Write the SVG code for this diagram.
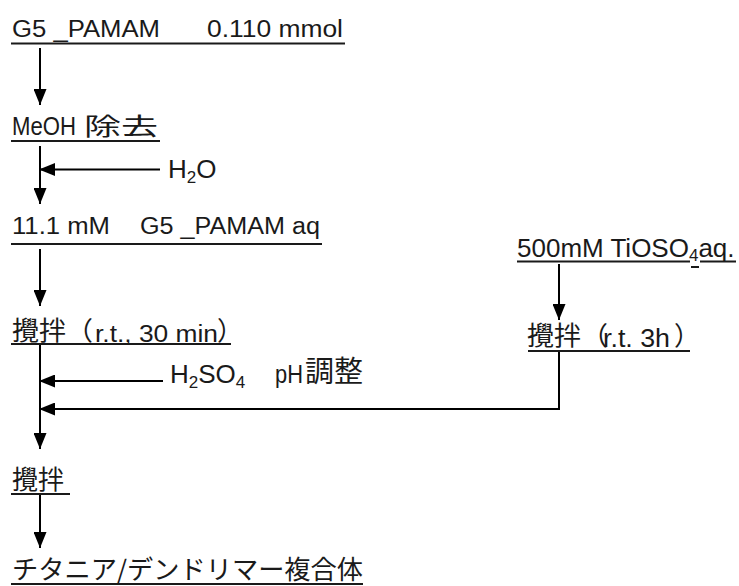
<svg xmlns="http://www.w3.org/2000/svg" width="739" height="586" viewBox="0 0 739 586">
<style>
.t{font-family:"Liberation Sans",Arial,"Noto Sans CJK JP",sans-serif;font-size:23px;fill:#1a1a1a}
.j{font-family:"Noto Sans CJK JP","Liberation Sans",sans-serif;font-size:26px;fill:#1a1a1a}
.b{font-size:26px}
.s{font-size:17px}
.ul{stroke:#1a1a1a;stroke-width:2}
.ln{stroke:#000;stroke-width:2;fill:none;marker-end:url(#ah)}
</style>
<defs>
<marker id="ah" markerUnits="userSpaceOnUse" markerWidth="17" markerHeight="13" refX="16" refY="6.5" orient="auto">
<path d="M0,0 L16,6.5 L0,13 z" fill="#000"/>
</marker>
</defs>
<rect width="739" height="586" fill="#fff"/>
<g id="connectors">
<line class="ln" x1="40" y1="48" x2="40" y2="105"/>
<line class="ln" x1="40" y1="146" x2="40" y2="204"/>
<line class="ln" x1="160" y1="169.5" x2="39" y2="169.5"/>
<line class="ln" x1="40" y1="249" x2="40" y2="306"/>
<line class="ln" x1="40" y1="344" x2="40" y2="449"/>
<line class="ln" x1="163" y1="381" x2="39" y2="381"/>
<line class="ln" x1="559" y1="264" x2="559" y2="320"/>
<polyline class="ln" points="559,351 559,409 39,409"/>
<line class="ln" x1="40" y1="494" x2="40" y2="548"/>
</g>
<g id="n1">
<text class="t" x="12" y="37" textLength="148" lengthAdjust="spacingAndGlyphs">G5 _PAMAM</text>
<text class="t" x="207" y="37" textLength="136" lengthAdjust="spacingAndGlyphs">0.110 mmol</text>
<line class="ul" x1="11" y1="43.5" x2="345" y2="43.5"/>
</g>
<g id="n2">
<text class="t" x="12" y="135" style="font-size:25px" textLength="64" lengthAdjust="spacingAndGlyphs">MeOH</text>
<text class="j" x="84" y="135" style="font-size:24px" textLength="74" lengthAdjust="spacingAndGlyphs">除去</text>
<line class="ul" x1="11" y1="141" x2="160" y2="141"/>
</g>
<g id="h2o">
<text class="t b" x="168" y="178">H<tspan class="s" dy="5">2</tspan><tspan dy="-5">O</tspan></text>
</g>
<g id="n3">
<text class="t" x="12" y="234" textLength="98" lengthAdjust="spacingAndGlyphs">11.1 mM</text>
<text class="t" x="140" y="234" textLength="180" lengthAdjust="spacingAndGlyphs">G5 _PAMAM aq</text>
<line class="ul" x1="11" y1="244" x2="322" y2="244"/>
</g>
<g id="n4">
<text class="j" x="12" y="340" textLength="81" lengthAdjust="spacingAndGlyphs">攪拌（</text>
<text class="t" x="95" y="342" textLength="123" lengthAdjust="spacingAndGlyphs">r.t., 30 min</text>
<text class="j" x="217" y="340">）</text>
<line class="ul" x1="11" y1="344" x2="231" y2="344"/>
</g>
<g id="h2so4">
<text class="t b" x="170" y="383">H<tspan class="s" dy="5">2</tspan><tspan dy="-5">SO</tspan><tspan class="s" dy="5">4</tspan></text>
<text class="t b" x="275" y="383"><tspan textLength="28" lengthAdjust="spacingAndGlyphs">pH</tspan><tspan class="j" x="305" y="382" style="font-size:29px">調整</tspan></text>
</g>
<g id="n5">
<text class="j" x="12" y="489">攪拌</text>
<line class="ul" x1="11" y1="494" x2="70" y2="494"/>
</g>
<g id="n6">
<text class="j" x="12" y="579" textLength="351" lengthAdjust="spacingAndGlyphs">チタニア/デンドリマー複合体</text>
<line class="ul" x1="11" y1="584" x2="363" y2="584"/>
</g>
<g id="n7">
<text class="t b" x="517" y="257">500mM TiOSO<tspan class="s" dy="4">4</tspan><tspan dy="-4">aq.</tspan></text>
<line class="ul" x1="517" y1="261.5" x2="690" y2="261.5"/>
<line class="ul" x1="691" y1="267" x2="699" y2="267"/>
<line class="ul" x1="700" y1="261.5" x2="736" y2="261.5"/>
</g>
<g id="n8">
<text class="j" x="527" y="345" textLength="81" lengthAdjust="spacingAndGlyphs">攪拌（</text>
<text class="t b" x="603" y="347" textLength="67" lengthAdjust="spacingAndGlyphs">r.t. 3h</text>
<text class="j" x="674" y="345">）</text>
<line class="ul" x1="528" y1="351" x2="690" y2="351"/>
</g>
</svg>
